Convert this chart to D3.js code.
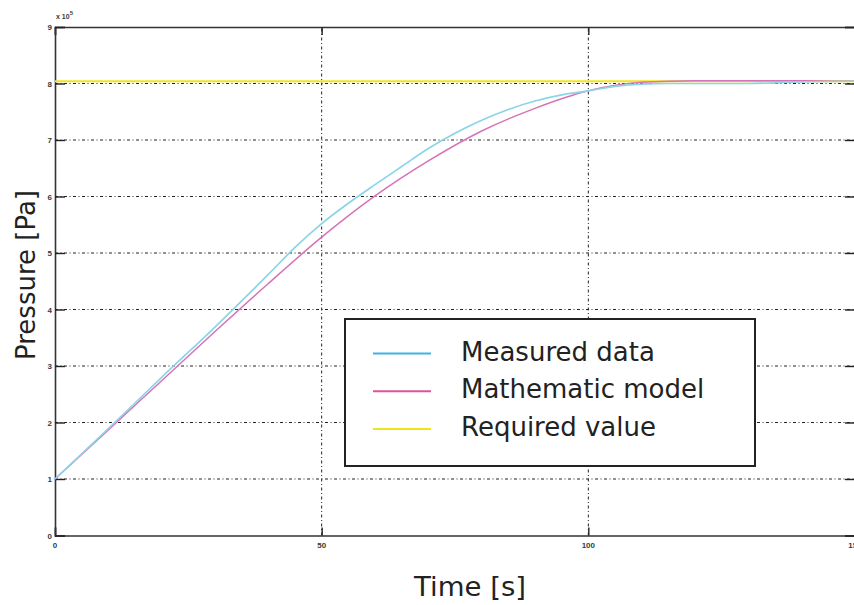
<!DOCTYPE html>
<html>
<head>
<meta charset="utf-8">
<script src="https://cdn.jsdelivr.net/npm/d3@7"></script>
<style>
  html, body { margin: 0; padding: 0; background: #fff; overflow: hidden; }
  svg { display: block; }
  .grid line { stroke: #222; stroke-width: 1; stroke-dasharray: 3,2.5,1,2.5; }
  .tick-label { font-family: "Liberation Sans", Arial, sans-serif; font-size: 8px; font-weight: bold; fill: #3a3a3a; }
  .axis-title { font-family: "DejaVu Sans", Verdana, sans-serif; font-size: 26px; fill: #222; }
  .legend-text { font-family: "DejaVu Sans", Verdana, sans-serif; font-size: 26px; fill: #222; }
</style>
</head>
<body>
<svg id="chart" width="854" height="605"></svg>
<script>
// values in 1e5 Pa, time in s
const measuredT = [0, 10, 20, 30, 40, 45, 50, 55, 60, 65, 70, 75, 80, 85, 90, 95, 100, 105, 110, 115, 120, 130, 140, 150];
const measuredP = [1, 1.89, 2.8, 3.69, 4.62, 5.1, 5.52, 5.88, 6.21, 6.53, 6.85, 7.12, 7.35, 7.54, 7.69, 7.8, 7.87, 7.95, 7.99, 8.0, 8.0, 8.0, 8.03, 8.04];

const modelT = [0, 10, 20, 30, 40, 50, 60, 70, 80, 90, 100, 110, 120, 130, 140, 150];
const modelP = [1, 1.87, 2.74, 3.61, 4.46, 5.28, 6.01, 6.63, 7.16, 7.56, 7.87, 8.02, 8.05, 8.05, 8.05, 8.04];

const requiredValue = 8.04;

const xTicks = [0, 50, 100, 150];
const yTicks = [0, 1, 2, 3, 4, 5, 6, 7, 8, 9];
const xGrid = [50, 100];
const yGrid = [1, 2, 3, 4, 5, 6, 7, 8];

const legendItems = [
  { label: 'Measured data', color: '#3db3e6' },
  { label: 'Mathematic model', color: '#e0509f' },
  { label: 'Required value', color: '#f2e41c' }
];

const svg = d3.select('#chart');
const m = { left: 55, top: 27 };
const W = 800, H = 508.5;

const x = d3.scaleLinear().domain([0, 150]).range([m.left, m.left + W]);
const y = d3.scaleLinear().domain([0, 9]).range([m.top + H, m.top]);

// grid
const grid = svg.append('g').attr('class', 'grid');
grid.selectAll('line.gx').data(xGrid).join('line')
  .attr('x1', (d) => x(d)).attr('x2', (d) => x(d))
  .attr('y1', y(0)).attr('y2', y(9));
grid.selectAll('line.gy').data(yGrid).join('line')
  .attr('x1', x(0)).attr('x2', x(150))
  .attr('y1', (d) => y(d)).attr('y2', (d) => y(d));

// axes (box, inward ticks)
const axisG = svg.append('g');
axisG.append('g').attr('transform', `translate(0,${y(0)})`)
  .call(d3.axisBottom(x).tickValues(xTicks).tickSize(-8).tickFormat(''));
axisG.append('g').attr('transform', `translate(0,${y(9)})`)
  .call(d3.axisTop(x).tickValues(xTicks).tickSize(-8).tickFormat(''));
axisG.append('g').attr('transform', `translate(${x(0)},0)`)
  .call(d3.axisLeft(y).tickValues(yTicks).tickSize(-10).tickFormat(''));
axisG.append('g').attr('transform', `translate(${x(150)},0)`)
  .call(d3.axisRight(y).tickValues(yTicks).tickSize(-10).tickFormat(''));
axisG.selectAll('path.domain').attr('stroke', '#333').attr('stroke-width', 1.6);
axisG.selectAll('.tick line').attr('stroke', '#222').attr('stroke-width', 1.4);

// tick labels
svg.selectAll('text.ylab').data(yTicks).join('text')
  .attr('class', 'tick-label')
  .attr('x', x(0) - 3).attr('y', (d) => y(d) + 3)
  .attr('text-anchor', 'end')
  .text((d) => d);
svg.selectAll('text.xlab').data(xTicks).join('text')
  .attr('class', 'tick-label')
  .attr('x', (d) => x(d)).attr('y', y(0) + 12)
  .attr('text-anchor', 'middle')
  .text((d) => d);

const expo = svg.append('text').attr('class', 'tick-label')
  .attr('x', x(0) + 1).attr('y', 19).style('font-size', '7px');
expo.append('tspan').text('x 10');
expo.append('tspan').attr('dy', -4).style('font-size', '6px').text('5');

// lines
const line = d3.line().x((d) => x(d[0])).y((d) => y(d[1])).curve(d3.curveMonotoneX);

svg.append('path')
  .datum([[0, requiredValue], [150, requiredValue]])
  .attr('fill', 'none').attr('stroke', '#f2e41c').attr('stroke-width', 1.8)
  .attr('d', line);

svg.append('path')
  .datum(modelT.map((t, i) => [t, modelP[i]]))
  .attr('fill', 'none').attr('stroke', '#d872b6').attr('stroke-width', 1.5)
  .attr('d', line);

svg.append('path')
  .datum(measuredT.map((t, i) => [t, measuredP[i]]))
  .attr('fill', 'none').attr('stroke', '#8ad5e7').attr('stroke-width', 1.7)
  .attr('d', line);

// legend
const lg = svg.append('g');
lg.append('rect')
  .attr('x', 345).attr('y', 319).attr('width', 410).attr('height', 147)
  .attr('fill', '#fff').attr('stroke', '#222').attr('stroke-width', 2);
const rows = lg.selectAll('g.row').data(legendItems).join('g')
  .attr('transform', (d, i) => `translate(0,${353.5 + i * 37.8})`);
rows.append('line')
  .attr('x1', 373).attr('x2', 431).attr('y1', 0).attr('y2', 0)
  .attr('stroke', (d) => d.color).attr('stroke-width', 2);
rows.append('text').attr('class', 'legend-text')
  .attr('x', 461).attr('y', 7)
  .text((d) => d.label);

// axis titles
svg.append('text').attr('class', 'axis-title')
  .attr('x', 470).attr('y', 596).attr('text-anchor', 'middle')
  .attr('textLength', 112).attr('lengthAdjust', 'spacingAndGlyphs')
  .text('Time [s]');
svg.append('text').attr('class', 'axis-title')
  .attr('transform', 'translate(35,275) rotate(-90)')
  .attr('text-anchor', 'middle')
  .text('Pressure [Pa]');
</script>
</body>
</html>
